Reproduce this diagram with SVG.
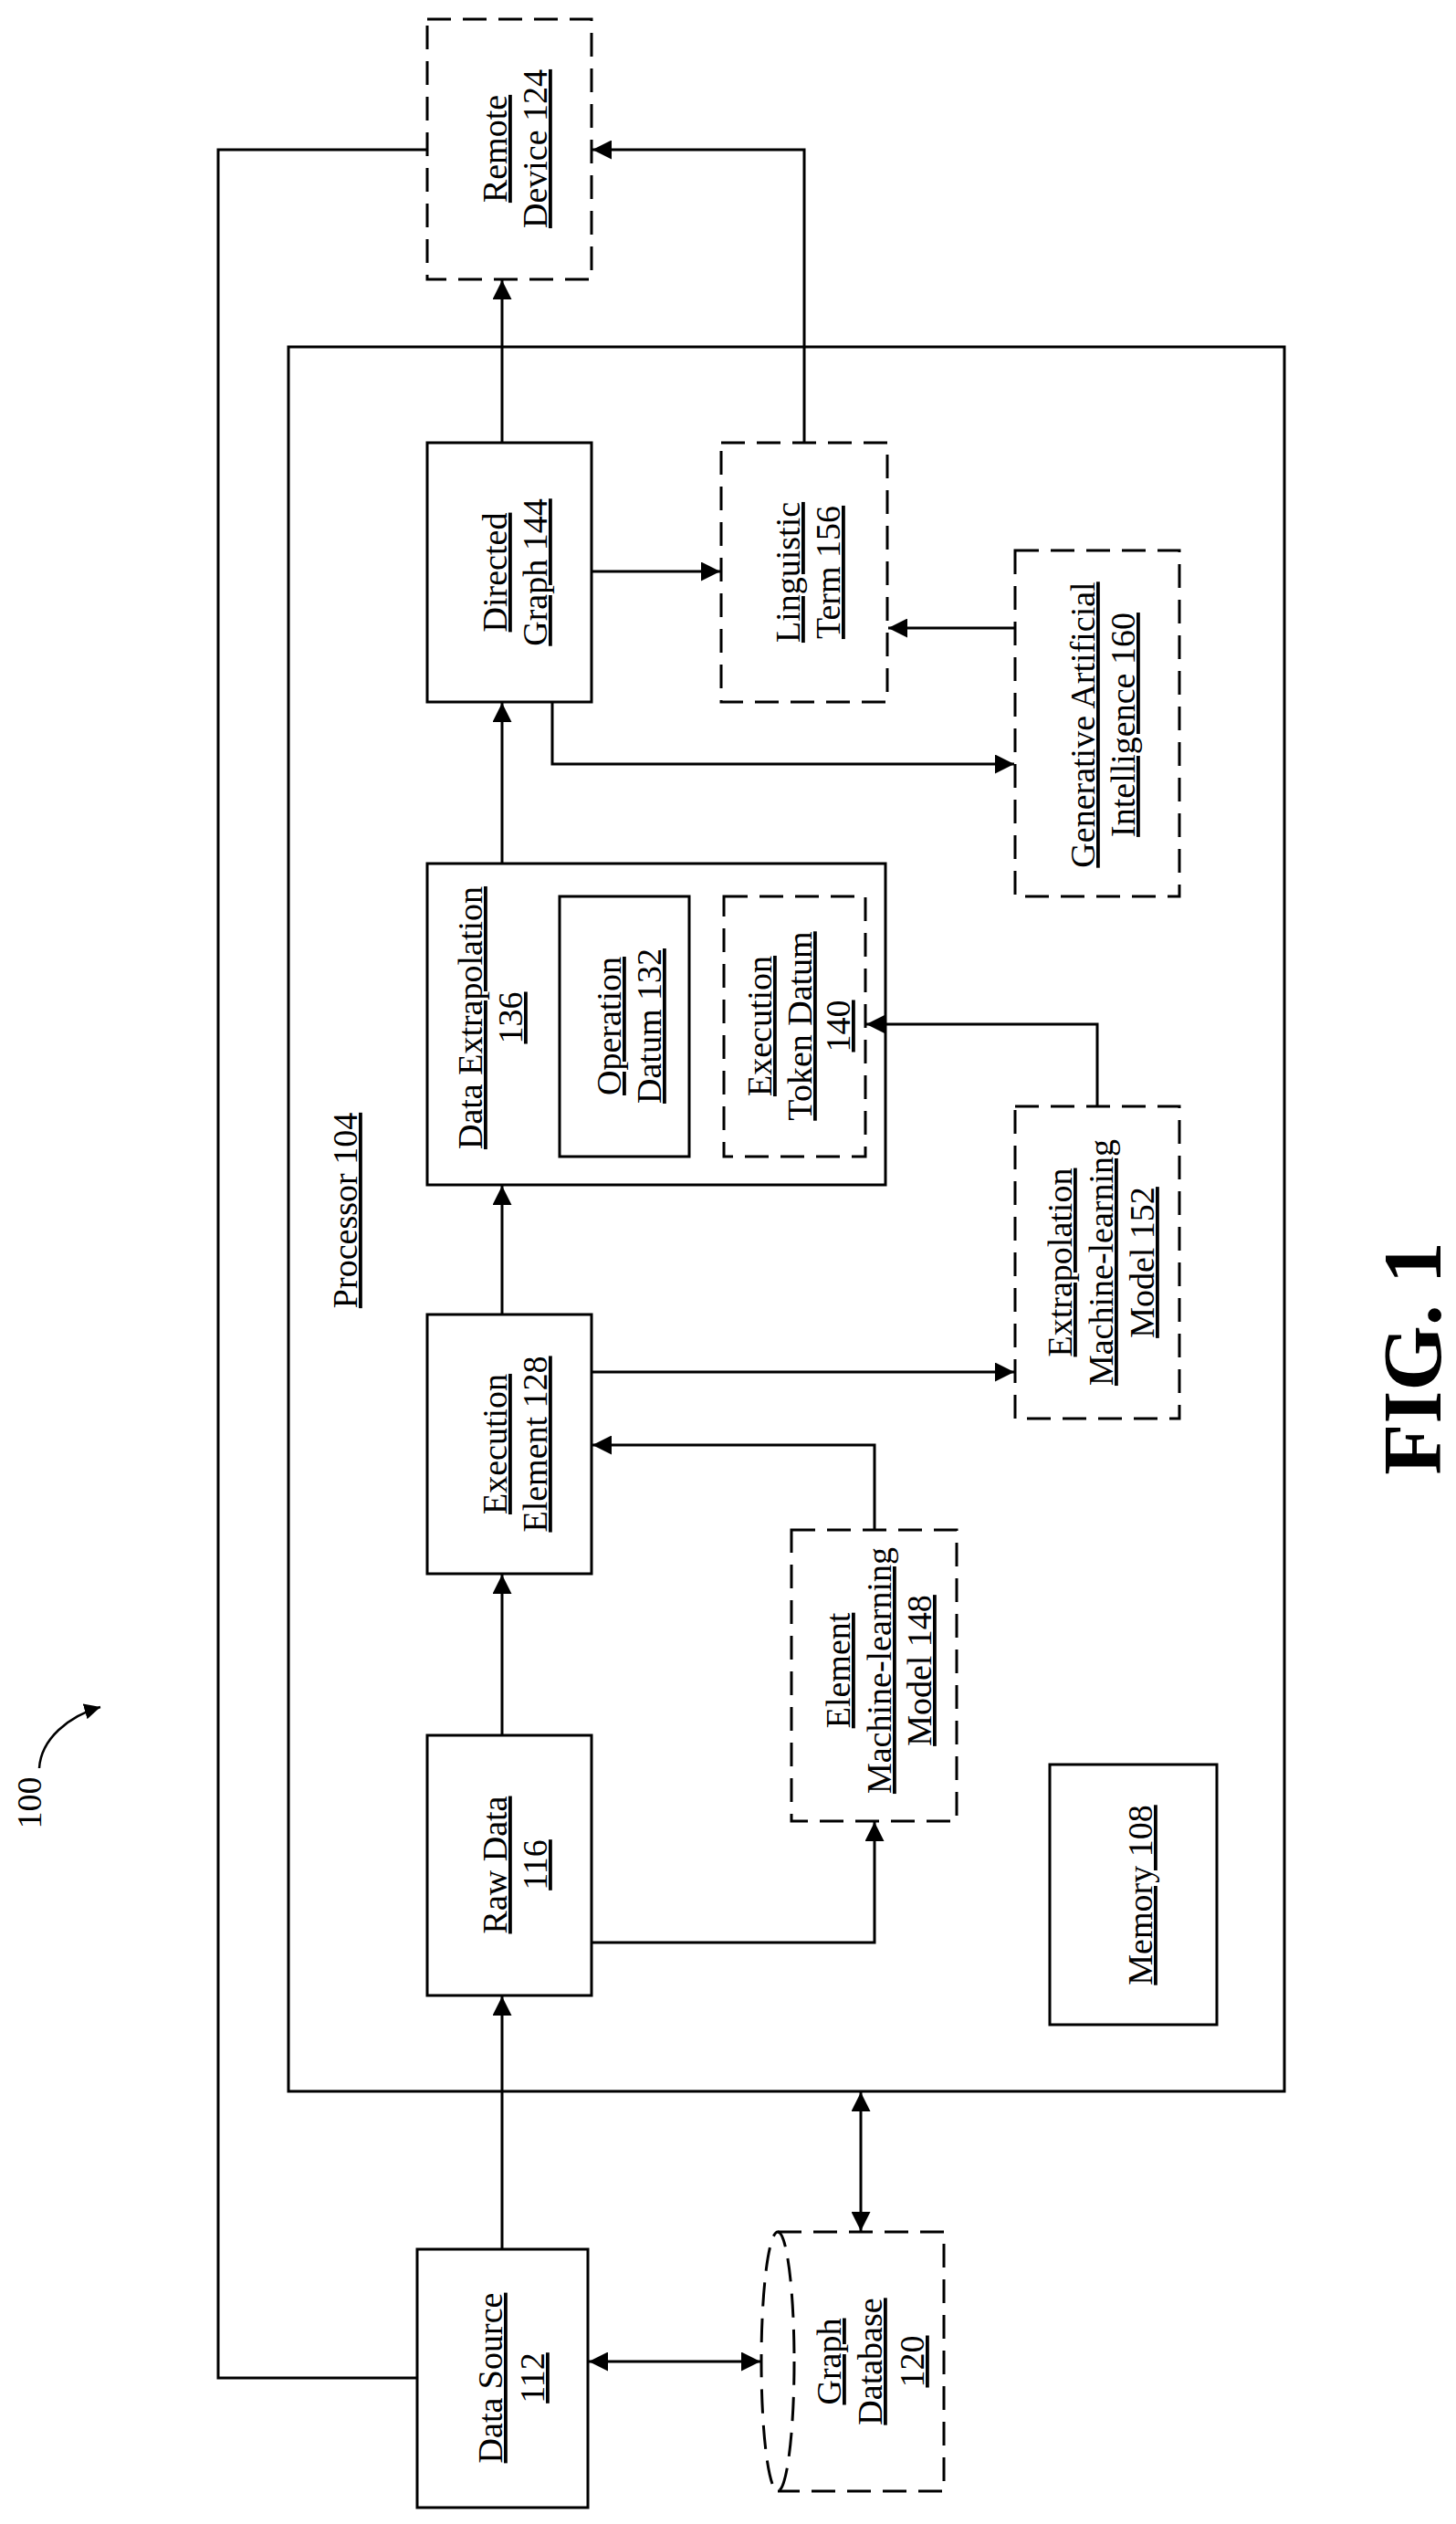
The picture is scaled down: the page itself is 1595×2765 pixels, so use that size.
<svg xmlns="http://www.w3.org/2000/svg" width="1595" height="2765" viewBox="0 0 1595 2765">
<style>
.b{fill:none;stroke:#000;stroke-width:3}
.d{fill:none;stroke:#000;stroke-width:3;stroke-dasharray:26 13}
.c{fill:none;stroke:#000;stroke-width:3}
text{font-family:"Liberation Serif","Times New Roman",serif;font-size:38px;text-anchor:middle;fill:#000}
.u{text-decoration:underline}
</style>
<defs>
<marker id="a" viewBox="0 0 10 10" refX="10" refY="5" markerWidth="7" markerHeight="7" orient="auto-start-reverse" markerUnits="strokeWidth"><path d="M0,0L10,5L0,10z" fill="#000"/></marker>
</defs>
<rect width="1595" height="2765" fill="#fff"/>
<g id="processor"><rect class="b" x="316" y="380" width="1091" height="1911"/>
<text class="u" transform="translate(391,1326) rotate(-90)">Processor 104</text></g>
<g id="remote"><rect class="d" x="468" y="21" width="180" height="285"/>
<text transform="translate(0,163) rotate(-90)"><tspan class="u" x="0" y="555">Remote</tspan><tspan class="u" x="0" y="599">Device 124</tspan></text></g>
<g id="dg"><rect class="b" x="468" y="485" width="180" height="284"/>
<text transform="translate(0,627) rotate(-90)"><tspan class="u" x="0" y="555">Directed</tspan><tspan class="u" x="0" y="599">Graph 144</tspan></text></g>
<g id="ling"><rect class="d" x="790" y="485" width="182" height="284"/>
<text transform="translate(0,627) rotate(-90)"><tspan class="u" x="0" y="876">Linguistic</tspan><tspan class="u" x="0" y="920">Term 156</tspan></text></g>
<g id="genai"><rect class="d" x="1112" y="603" width="180" height="379"/>
<text transform="translate(0,794) rotate(-90)"><tspan class="u" x="0" y="1199">Generative Artificial</tspan><tspan class="u" x="0" y="1243">Intelligence 160</tspan></text></g>
<g id="extrap"><rect class="b" x="468" y="946" width="502" height="352"/>
<text transform="translate(0,1115) rotate(-90)"><tspan class="u" x="0" y="528">Data Extrapolation</tspan><tspan class="u" x="0" y="572">136</tspan></text></g>
<g id="opdatum"><rect class="b" x="613" y="982" width="142" height="285"/>
<text transform="translate(0,1124) rotate(-90)"><tspan class="u" x="0" y="680">Operation</tspan><tspan class="u" x="0" y="724">Datum 132</tspan></text></g>
<g id="token"><rect class="d" x="793" y="982" width="155" height="285"/>
<text transform="translate(0,1124) rotate(-90)"><tspan class="u" x="0" y="845">Execution</tspan><tspan class="u" x="0" y="889">Token Datum</tspan><tspan class="u" x="0" y="931">140</tspan></text></g>
<g id="extrapml"><rect class="d" x="1112" y="1212" width="180" height="342"/>
<text transform="translate(0,1383) rotate(-90)"><tspan class="u" x="0" y="1174">Extrapolation</tspan><tspan class="u" x="0" y="1219">Machine-learning</tspan><tspan class="u" x="0" y="1264">Model 152</tspan></text></g>
<g id="exec"><rect class="b" x="468" y="1440" width="180" height="284"/>
<text transform="translate(0,1582) rotate(-90)"><tspan class="u" x="0" y="555">Execution</tspan><tspan class="u" x="0" y="599">Element 128</tspan></text></g>
<g id="elemml"><rect class="d" x="867" y="1676" width="181" height="319"/>
<text transform="translate(0,1830) rotate(-90)"><tspan class="u" x="0" y="931">Element</tspan><tspan class="u" x="0" y="976">Machine-learning</tspan><tspan class="u" x="0" y="1020">Model 148</tspan></text></g>
<g id="raw"><rect class="b" x="468" y="1901" width="180" height="285"/>
<text transform="translate(0,2043) rotate(-90)"><tspan class="u" x="0" y="555">Raw Data</tspan><tspan class="u" x="0" y="599">116</tspan></text></g>
<g id="memory"><rect class="b" x="1150" y="1933" width="183" height="285"/>
<text class="u" transform="translate(1262,2076) rotate(-90)">Memory 108</text></g>
<g id="source"><rect class="b" x="457" y="2464" width="187" height="283"/>
<text transform="translate(0,2605) rotate(-90)"><tspan class="u" x="0" y="550">Data Source</tspan><tspan class="u" x="0" y="596">112</tspan></text></g>
<g id="graphdb"><ellipse class="d" cx="852" cy="2587" rx="18" ry="142"/>
<path class="d" d="M852,2445H1034V2729H852"/>
<text transform="translate(0,2587) rotate(-90)"><tspan class="u" x="0" y="921">Graph</tspan><tspan class="u" x="0" y="966">Database</tspan><tspan class="u" x="0" y="1012">120</tspan></text></g>
<g id="label100"><text transform="translate(45,1975) rotate(-90)">100</text>
<path class="c" d="M43,1937C45,1905 75,1880 110,1870" marker-end="url(#a)" style="stroke-width:2.5"/></g>
<g id="fig"><text transform="translate(1578,1488) rotate(-90)" style="font-size:92px;font-weight:bold">FIG. 1</text></g>
<g id="connectors">
<path class="c" d="M468,164H239V2605H457"/>
<path class="c" d="M881,485V164H649" marker-end="url(#a)"/>
<path class="c" d="M550,485V307" marker-end="url(#a)"/>
<path class="c" d="M648,626H789" marker-end="url(#a)"/>
<path class="c" d="M1112,688H973" marker-end="url(#a)"/>
<path class="c" d="M605,769V837H1111" marker-end="url(#a)"/>
<path class="c" d="M550,946V770" marker-end="url(#a)"/>
<path class="c" d="M1202,1212V1122H949" marker-end="url(#a)"/>
<path class="c" d="M550,1440V1299" marker-end="url(#a)"/>
<path class="c" d="M648,1503H1111" marker-end="url(#a)"/>
<path class="c" d="M958,1676V1583H649" marker-end="url(#a)"/>
<path class="c" d="M550,1901V1725" marker-end="url(#a)"/>
<path class="c" d="M648,2128H958V1996" marker-end="url(#a)"/>
<path class="c" d="M550,2464V2187" marker-end="url(#a)"/>
<path class="c" d="M645,2587H833" marker-start="url(#a)" marker-end="url(#a)"/>
<path class="c" d="M943,2292V2444" marker-start="url(#a)" marker-end="url(#a)"/>
</g>
</svg>
